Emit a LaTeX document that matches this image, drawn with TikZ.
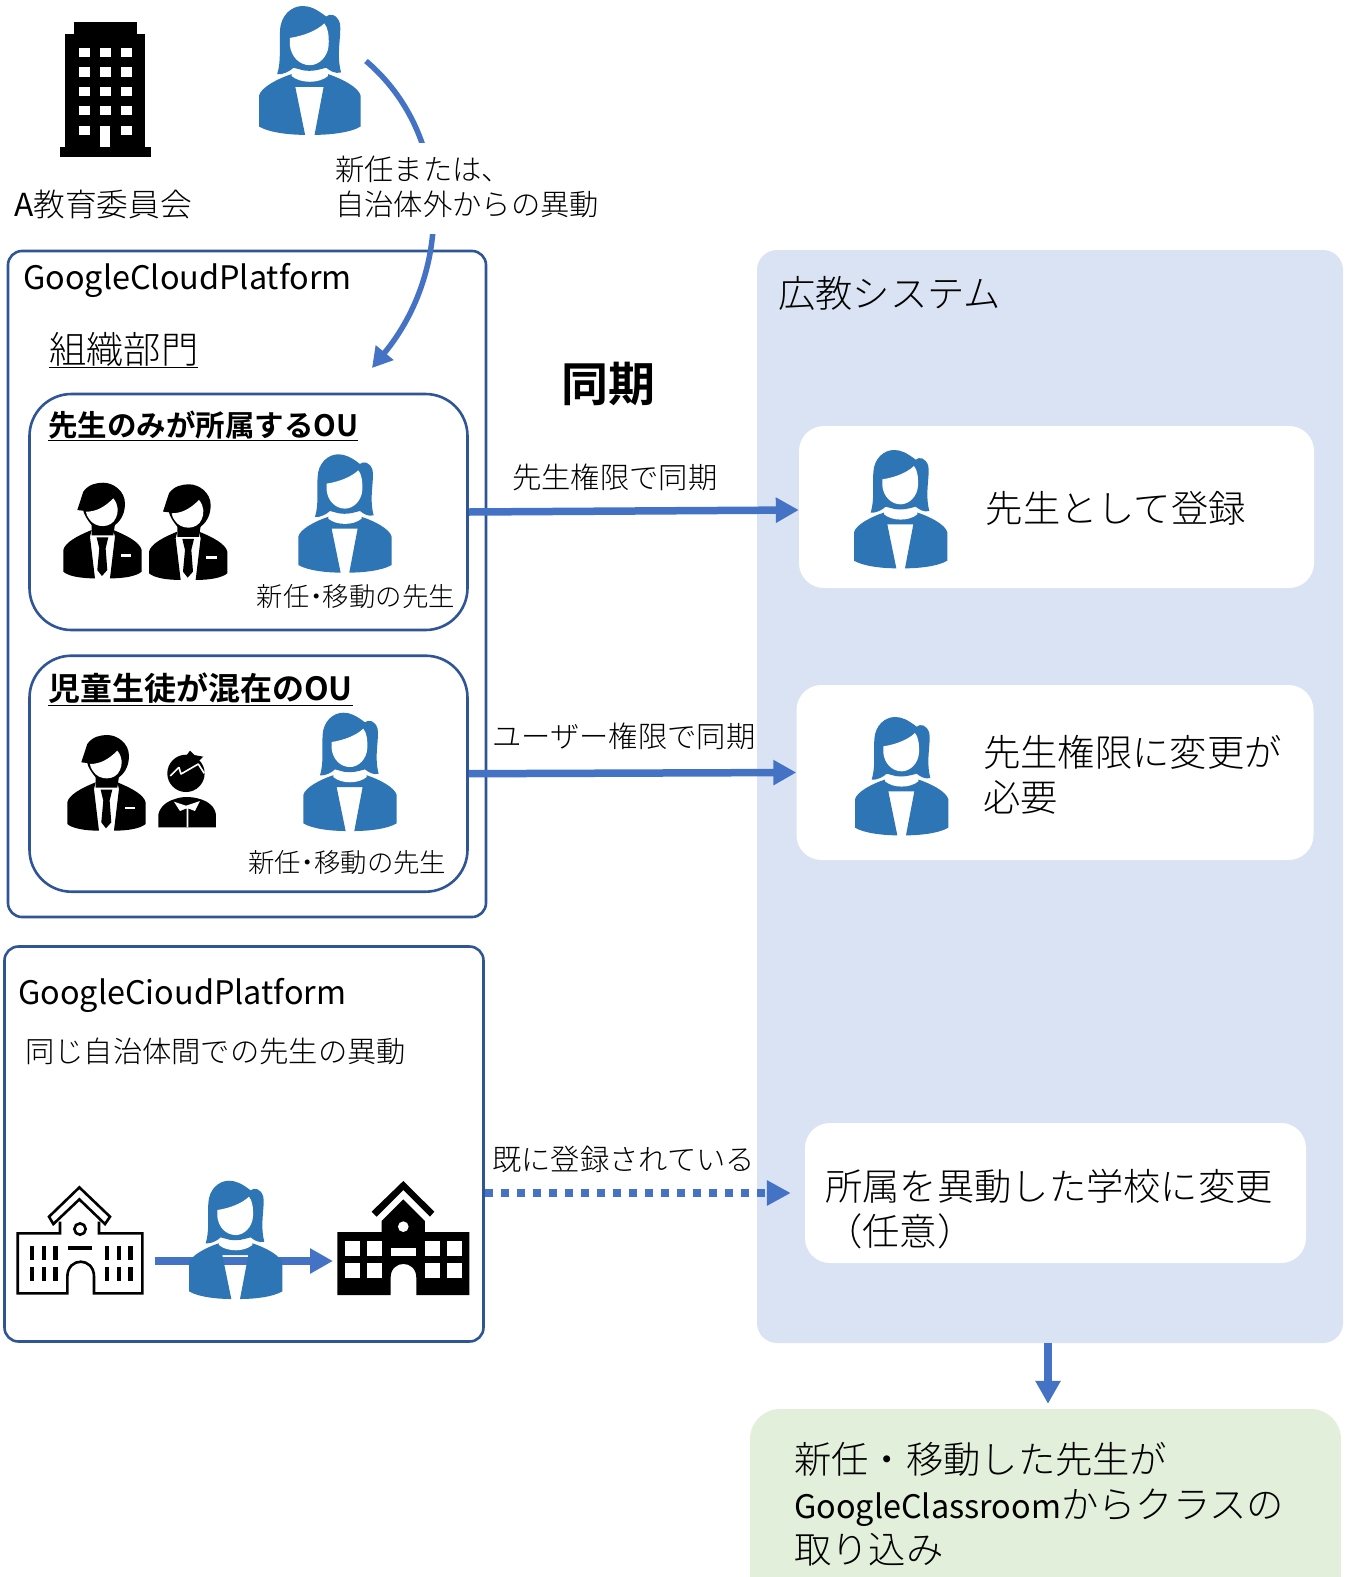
\documentclass[tikz,border=0pt]{standalone}
\usepackage{fontspec}
\setmainfont{Noto Sans CJK JP}[UprightFont=* Light, BoldFont=* Bold]
\newfontfamily\latinface{Noto Sans CJK JP}
\usetikzlibrary{arrows.meta,positioning}

\definecolor{flowblue}{HTML}{4472C4}
\definecolor{teacherblue}{HTML}{2E75B6}
\definecolor{frameblue}{HTML}{2F5597}
\definecolor{panelblue}{HTML}{DAE3F3}
\definecolor{panelgreen}{HTML}{E2EFDA}

\tikzset{
    x=1pt, y=-1pt,
    panelbox/.style={rounded corners=20pt, fill=panelblue, inner sep=0pt},
    whitebox/.style={rounded corners=25pt, fill=white, inner sep=0pt},
    greenbox/.style={rounded corners=30pt, fill=panelgreen, inner sep=0pt},
    gcpbox/.style={rounded corners=14pt, draw=frameblue, line width=2.6pt, inner sep=0pt},
    oubox/.style={rounded corners=42pt, draw=frameblue, fill=white, line width=2.6pt, inner sep=0pt},
    txt/.style={anchor=west, inner sep=0pt, align=left},
    sizeS/.style={font=\fontsize{26.4}{31}\selectfont},
    sizeM/.style={font=\fontsize{29.3}{35}\selectfont},
    sizeL/.style={font=\fontsize{37.3}{45}\selectfont},
    flow/.style={draw=flowblue, line width=7.5pt, -{Triangle[length=23pt,width=24pt]}},
    womanicon/.pic={
        \fill[teacherblue] (0,332) -- (0,247) .. controls (5,225) and (50,200) .. (95,186) -- (185,186) .. controls (230,200) and (275,225) .. (280,247) -- (280,332) .. controls (250,350) and (190,355) .. (153,355) -- (178,223) -- (100,223) -- (127,355) .. controls (90,355) and (30,350) .. (0,332) -- cycle;
        \fill[white] (90,176) -- (190,176) -- (190,193) .. controls (165,214) and (115,214) .. (90,193) -- cycle;
        \fill[teacherblue] (50,188) .. controls (62,150) and (55,110) .. (58,67) .. controls (60,25) and (90,0) .. (120,0) .. controls (140,0) and (158,8) .. (185,29) .. controls (195,20) and (215,22) .. (223,48) .. controls (228,80) and (212,130) .. (226,183) .. controls (210,188) and (195,178) .. (185,170) -- (170,174) .. controls (150,180) and (125,180) .. (110,174) -- (95,170) .. controls (85,180) and (65,190) .. (50,188) -- cycle;
        \fill[white] (85,88) .. controls (125,82) and (160,67) .. (180,48) .. controls (190,60) and (193,80) .. (192,107) .. controls (190,140) and (165,163) .. (140,163) .. controls (112,163) and (88,140) .. (85,107) -- cycle;
    },
    manicon/.pic={
        \fill (42,82) -- (60,27) .. controls (75,5) and (100,0) .. (120,0) .. controls (150,0) and (185,25) .. (185,62) .. controls (185,85) and (178,110) .. (155,127) .. controls (140,148) and (100,148) .. (85,127) .. controls (72,112) and (62,95) .. (60,84) -- cycle;
        \fill (85,125) -- (155,125) -- (150,158) -- (85,158) -- cycle;
        \fill[white] (68,87) .. controls (100,87) and (125,72) .. (150,47) .. controls (166,65) and (166,90) .. (158,105) .. controls (145,138) and (95,138) .. (77,108) .. controls (72,102) and (69,95) .. (68,87) -- cycle;
        \fill (0,267) -- (0,202) .. controls (5,180) and (40,160) .. (85,142) -- (80,162) -- (95,287) .. controls (50,287) and (15,280) .. (0,267) -- cycle;
        \fill (235,267) -- (235,202) .. controls (230,180) and (195,160) .. (150,142) -- (155,162) -- (140,287) .. controls (185,287) and (220,280) .. (235,267) -- cycle;
        \fill (100,164) -- (135,164) -- (127,197) -- (132,262) -- (116,280) -- (102,262) -- (108,197) -- cycle;
        \fill[white] (172,215) rectangle (204,223);
    },
    childicon/.pic={
        \fill (83,68) circle[radius=56];
        \fill (82,18) -- (95,0) -- (108,13) -- (135,18) -- (120,32) -- cycle;
        \draw[white, line width=1.6pt, line join=bevel] (36,76) -- (62,50) -- (68,70) -- (120,40) -- (138,68);
        \fill (0,230) -- (0,192) .. controls (5,168) and (25,152) .. (50,145) .. controls (70,137) and (100,137) .. (125,145) .. controls (150,152) and (170,168) .. (173,192) -- (173,230) -- cycle;
        \fill[white] (47,153) -- (83,165) -- (125,151) -- (110,181) -- (90,173) -- (90,230) -- (85,230) -- (85,173) -- (65,181) -- cycle;
    },
    officeicon/.pic={
        \fill (13.5,0) rectangle (77,12.3);
        \fill (5,12.3) rectangle (85,125);
        \fill (0,125) rectangle (90.5,135);
        \foreach \wx in {18.6,40,61} {
            \foreach \wy in {25.6,45.3,64.6,84} {
                \fill[white] (\wx,\wy) rectangle +(10.6,9.4);
            }
        }
        \fill[white] (18.6,104) rectangle +(10.6,9.4);
        \fill[white] (61,104) rectangle +(10.6,9.4);
        \fill[white] (40,104) rectangle (50,125);
    },
    schoolopen/.pic={
        \draw[line width=2.6pt] (188,2) -- (280,90) -- (265,112) -- (188,38) -- (110,112) -- (97,90) -- cycle;
        \draw[line width=2.6pt] (130,105) -- (130,140) -- (3,140) -- (3,320) -- (152,320) -- (152,270) .. controls (152,210) and (232,210) .. (232,270) -- (232,320) -- (377,320) -- (377,140) -- (247,140) -- (247,105);
        \draw[line width=2.6pt] (190,127) circle[radius=17];
        \fill (155,178) rectangle (225,190);
        \foreach \wx in {40,75,110,265,300,335} {
            \fill (\wx,178) rectangle +(13,42);
            \fill (\wx,240) rectangle +(13,43);
        }
    },
    schoolsolid/.pic={
        \fill (198,0) -- (291,92) -- (278,107) -- (198,27) -- (118,107) -- (103,92) -- cycle;
        \fill (198,55) -- (263,120) -- (263,153) -- (396,153) -- (396,342) -- (237,342) -- (237,290) .. controls (237,235) and (160,235) .. (160,290) -- (160,342) -- (0,342) -- (0,153) -- (133,153) -- (133,120) -- cycle;
        \fill[white] (198,137) circle[radius=16];
        \fill[white] (160,202) rectangle (237,225);
        \foreach \wx in {22,88,264,330} {
            \fill[white] (\wx,180) rectangle +(45,45);
            \fill[white] (\wx,247) rectangle +(45,45);
        }
    },
}

\begin{document}
\begin{tikzpicture}
    \path[clip, use as bounding box] (0,0) rectangle (1349,1577);

    % Panels on the right
    \node[panelbox, minimum width=586pt, minimum height=1093pt] (kyomuPanel) at (1050,796.5) {};
    \node[whitebox, minimum width=515pt, minimum height=162pt] (registerBox) at (1056.5,507) {};
    \node[whitebox, minimum width=517pt, minimum height=175pt] (changeBox) at (1055,772.5) {};
    \node[whitebox, minimum width=501pt, minimum height=140pt] (transferBox) at (1055.5,1193) {};
    \node[greenbox, minimum width=591pt, minimum height=201pt] (classroomBox) at (1045.5,1509.5) {};

    % Boxes on the left
    \node[gcpbox, minimum width=478pt, minimum height=666pt] (gcpTop) at (247,584) {};
    \node[gcpbox, minimum width=479pt, minimum height=395pt] (gcpBottom) at (244,1144) {};
    \node[oubox, minimum width=438pt, minimum height=236pt] (ouTeacher) at (248.5,512) {};
    \node[oubox, minimum width=438pt, minimum height=236pt] (ouMixed) at (248.5,773.7) {};

    % Curve from the new teacher into the organisation
    \coordinate (arcStart) at (366,61);
    \coordinate (arcEnd) at (372,368);
    \draw[draw=flowblue, line width=5.5pt, -{Triangle[length=20pt,width=22pt]}] (arcStart) .. controls (453,135) and (453,270) .. (arcEnd);
    \node[txt, sizeM, anchor=north west, fill=white, minimum height=91pt, text width=275pt] (newLabel) at (332,143) {};
    \node[txt, sizeM] (newText) at (335,187) {新任または、\\自治体外からの異動};

    % Icons
    \pic[scale=1] at (60.4,22) {officeicon};
    \pic[scale=.363] at (259,6) {womanicon};
    \pic[scale=.3333] at (298.3,454.3) {womanicon};
    \pic[scale=.3333] at (303.3,712.7) {womanicon};
    \pic[scale=.3333] at (854,450) {womanicon};
    \pic[scale=.3333] at (855,717) {womanicon};
    \pic[scale=.3333] at (63.3,482.7) {manicon};
    \pic[scale=.3333] at (149,484.3) {manicon};
    \pic[scale=.3333] at (67.3,735) {manicon};
    \pic[scale=.3333] at (158.3,750.7) {childicon};
    \pic[scale=.3333] at (16.7,1186.7) {schoolopen};
    \pic[scale=.3333] at (337.3,1181) {schoolsolid};

    % Arrow between the schools, under the teacher
    \coordinate (schoolOld) at (155,1261);
    \coordinate (schoolNew) at (333,1261);
    \draw[flow] (schoolOld) -- (schoolNew);
    \pic[scale=.3333] at (189,1180.7) {womanicon};

    % Labels on the left
    \node[txt, font=\fontsize{31.7}{37}\selectfont] (boardText) at (14,204) {{\latinface A}教育委員会};
    \node[txt, font=\latinface\fontsize{32.4}{38}\selectfont] (gcpTopText) at (23,280) {GoogleCloudPlatform};
    \node[txt, font=\fontsize{37.3}{45}\selectfont] (deptText) at (49,350) {\underline{組織部門}};
    \node[txt, font=\bfseries\fontsize{29.5}{36}\selectfont] (ouTeacherText) at (48,426) {\underline{先生のみが所属するOU}};
    \node[txt, font=\bfseries\fontsize{32}{38}\selectfont] (ouMixedText) at (48,689) {\underline{児童生徒が混在のOU}};
    \node[txt, sizeS] (newMoveOne) at (256.7,597) {新任\hspace{-.25em}・\hspace{-.25em}移動の先生};
    \node[txt, sizeS] (newMoveTwo) at (248,862.7) {新任\hspace{-.25em}・\hspace{-.25em}移動の先生};
    \node[txt, font=\latinface\fontsize{32.4}{38}\selectfont] (gcpBottomText) at (18,995) {GoogleCioudPlatform};
    \node[txt, sizeM] (sameCityText) at (25,1051) {同じ自治体間での先生の異動};

    % Sync labels in the middle
    \node[txt, font=\bfseries\fontsize{47}{56}\selectfont] (syncText) at (561,384) {同期};
    \node[txt, sizeM] (teacherSyncText) at (512,477) {先生権限で同期};
    \node[txt, sizeM] (userSyncText) at (492,736) {ユーザー権限で同期};
    \node[txt, sizeM] (alreadyText) at (492,1159) {既に登録されている};

    % Labels on the right
    \node[txt, sizeL] (kyomuText) at (778,293) {広教システム};
    \node[txt, sizeL] (registerText) at (985.5,508) {先生として登録};
    \node[txt, sizeL] (changeText) at (983,775) {先生権限に変更が\\必要};
    \node[txt, sizeL] (transferText) at (825,1209) {所属を異動した学校に変更\\（任意）};
    \node[txt, sizeL] (classroomText) at (794,1504) {新任・移動した先生が\\{\latinface\fontsize{32.4}{45}\selectfont GoogleClassroom}からクラスの\\取り込み};

    % Connectors
    \draw[flow] (ouTeacher.east) -- ([yshift=-3pt]registerBox.west);
    \draw[flow] (ouMixed.east) -- (changeBox.west);
    \draw[draw=flowblue, line width=8pt, dash pattern=on 8pt off 8pt, -{Triangle[length=24pt,width=24pt]}, shorten >=14pt] (gcpBottom.east |- transferBox.west) -- (transferBox.west);
    \draw[flow] ([xshift=-2pt]kyomuPanel.south) -- ([xshift=2.5pt,yshift=5pt]classroomBox.north);
\end{tikzpicture}
\end{document}
